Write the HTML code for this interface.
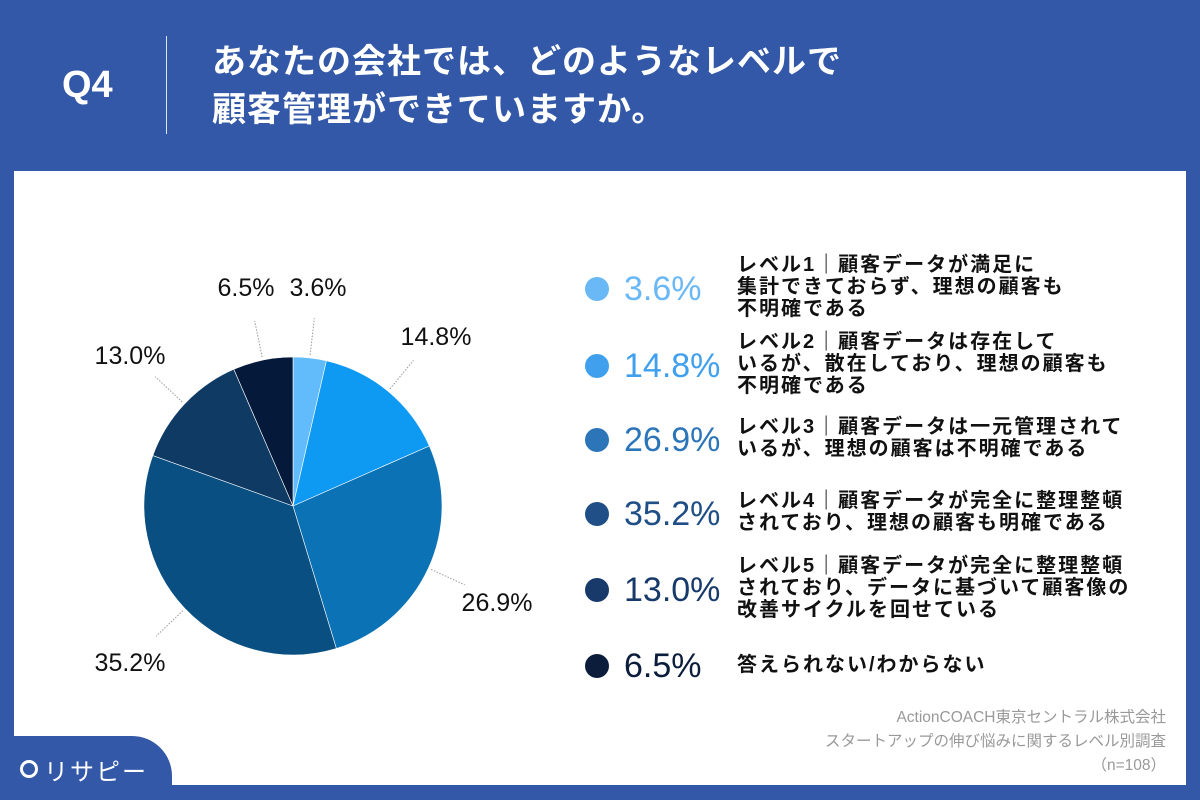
<!DOCTYPE html>
<html><head><meta charset="utf-8">
<style>
body{margin:0;width:1200px;height:800px;background:#3358a8;position:relative;overflow:hidden;font-family:"Liberation Sans","Noto Sans CJK JP",sans-serif;}
.abs{position:absolute;}
#panel{left:14px;top:171px;width:1172px;height:614px;background:#fff;}
.q{left:62px;top:64px;color:#fff;font-size:38px;font-weight:bold;}
.sep{left:166px;top:36px;width:1px;height:98px;background:#dfe6f3;}
.title{left:212px;top:38px;color:#fff;font-size:34px;font-weight:bold;line-height:48px;letter-spacing:1px;}
.row{position:absolute;left:582px;}
.dot{position:absolute;left:3px;width:24px;height:24px;border-radius:50%;}
.pct{position:absolute;left:42px;font-size:34px;}
.txt{position:absolute;left:155px;font-size:20px;font-weight:bold;line-height:22px;color:#111;white-space:nowrap;letter-spacing:2px;}
.src{right:34px;text-align:right;color:#999;font-size:15.5px;line-height:24px;top:706px;}
#tab{left:0;top:736px;width:172px;height:64px;background:#3358a8;border-top-right-radius:40px;}
</style></head><body>
<div class="abs" id="panel"></div>
<div class="abs q">Q4</div>
<div class="abs sep"></div>
<div class="abs title">あなたの会社では、どのようなレベルで<br>顧客管理ができていますか。</div>
<svg class="abs" style="left:0;top:0" width="600" height="800" id="pie"></svg>
<div id="legend"></div>
<div class="abs src">ActionCOACH東京セントラル株式会社<br>スタートアップの伸び悩みに関するレベル別調査<br>（n=108）</div>
<div class="abs" id="tab"></div>
<div class="abs" style="left:20px;top:752px;color:#fff;font-size:24px;letter-spacing:2px;"><span style="display:inline-block;width:12px;height:12px;border:3px solid #fff;border-radius:50%;margin-right:6px;vertical-align:2px"></span>リサピー</div>
<script>
const categories=["レベル1","レベル2","レベル3","レベル4","レベル5","答えられない"];
const values=[3.6,14.8,26.9,35.2,13.0,6.5];
const labels=["3.6%","14.8%","26.9%","35.2%","13.0%","6.5%"];
const sliceColors=["#62bcfb","#0e9af2","#0b72b6","#0a4f82","#0e3a64","#051a3b"];
const dotColors=["#6ab8f5","#40a0ee","#2c75b9","#1f4f86","#173a6b","#0c1d3c"];
const descs=[
"レベル1｜顧客データが満足に<br>集計できておらず、理想の顧客も<br>不明確である",
"レベル2｜顧客データは存在して<br>いるが、散在しており、理想の顧客も<br>不明確である",
"レベル3｜顧客データは一元管理されて<br>いるが、理想の顧客は不明確である",
"レベル4｜顧客データが完全に整理整頓<br>されており、理想の顧客も明確である",
"レベル5｜顧客データが完全に整理整頓<br>されており、データに基づいて顧客像の<br>改善サイクルを回せている",
"答えられない/わからない"];
const NS="http://www.w3.org/2000/svg";
const svg=document.getElementById('pie');
const cx=293,cy=506,R=149;
const total=values.reduce((a,b)=>a+b,0);
function pt(a,r){return [cx+r*Math.sin(a),cy-r*Math.cos(a)];}
let a0=0;
const labelPos=[[318,287],[436,336],[497,602],[130,662],[130,355],[246,287]];
values.forEach((v,i)=>{
  const a1=a0+v/total*2*Math.PI;
  const p0=pt(a0,R),p1=pt(a1,R);
  const path=document.createElementNS(NS,'path');
  path.setAttribute('d',`M${cx},${cy}L${p0[0]},${p0[1]}A${R},${R} 0 ${a1-a0>Math.PI?1:0} 1 ${p1[0]},${p1[1]}Z`);
  path.setAttribute('fill',sliceColors[i]);
  path.setAttribute('stroke','#fff');path.setAttribute('stroke-width','0.6');
  
  
  svg.appendChild(path);
  const m=(a0+a1)/2;
  const q0=pt(m,R+3),q1=pt(m,R+40);
  const ln=document.createElementNS(NS,'line');
  ln.setAttribute('x1',q0[0]);ln.setAttribute('y1',q0[1]);ln.setAttribute('x2',q1[0]);ln.setAttribute('y2',q1[1]);
  ln.setAttribute('stroke','#999');ln.setAttribute('stroke-dasharray','1.5,1.5');ln.setAttribute('stroke-width','1');
  
  
  svg.appendChild(ln);
  const t=document.createElementNS(NS,'text');
  t.setAttribute('x',labelPos[i][0]);t.setAttribute('y',labelPos[i][1]+9);
  t.setAttribute('text-anchor','middle');t.setAttribute('font-size','25');
  t.setAttribute('font-family','"Liberation Sans",sans-serif');t.setAttribute('fill','#111');
  t.textContent=labels[i];
  
  
  svg.appendChild(t);
  a0=a1;
});
const lg=document.getElementById('legend');
const rowY=[289,366,440,514,590,666];
const txtOff=[-35,-35,-24,-24,-35,-12];
values.forEach((v,i)=>{
  const r=document.createElement('div');r.className='row';r.style.top=rowY[i]+'px';
  
  
  r.innerHTML=`<div class="dot" style="top:-12px;background:${dotColors[i]}"></div><div class="pct" style="top:-19px;color:${dotColors[i]}">${labels[i]}</div><div class="txt" style="top:${txtOff[i]}px">${descs[i]}</div>`;
  lg.appendChild(r);
});
</script>
</body></html>
